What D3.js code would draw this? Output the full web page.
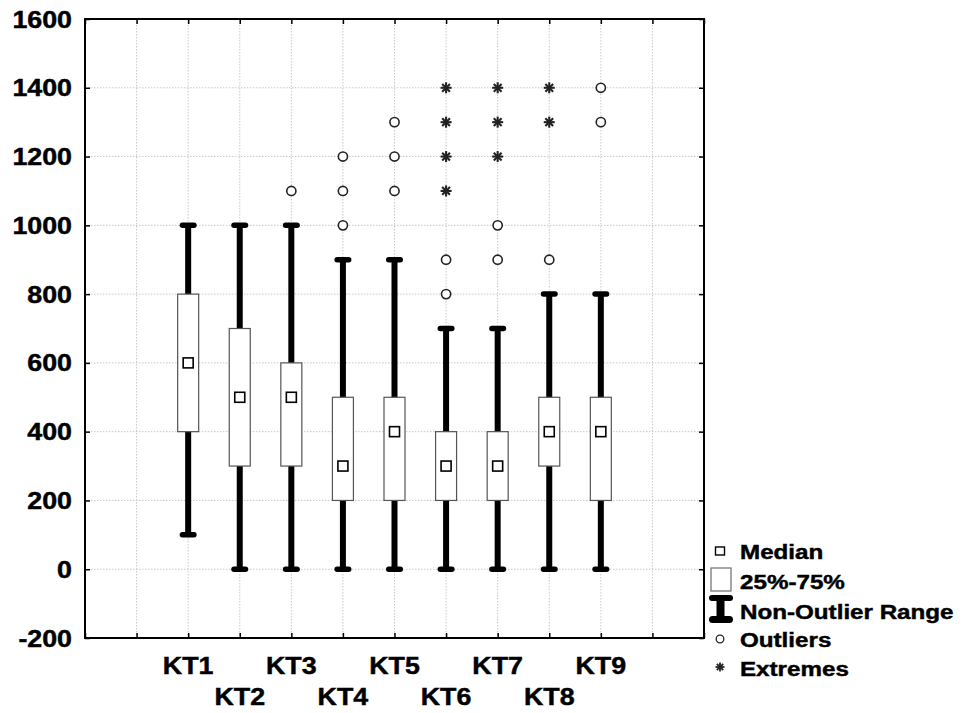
<!DOCTYPE html>
<html>
<head>
<meta charset="utf-8">
<script src="https://cdn.jsdelivr.net/npm/d3@7"></script>
<style>
  html, body { margin: 0; padding: 0; background: #fff; }
  svg { display: block; }
  text { font-family: "Liberation Sans", Arial, sans-serif; font-weight: bold; fill: #000; stroke: #000; stroke-width: 0.45px; }
</style>
</head>
<body>
<svg id="chart" width="964" height="713"></svg>
<script>
// Box-plot summaries per sampling site
const categories = ["KT1", "KT2", "KT3", "KT4", "KT5", "KT6", "KT7", "KT8", "KT9"];
const whiskerLow  = [100, 0, 0, 0, 0, 0, 0, 0, 0];
const whiskerHigh = [1000, 1000, 1000, 900, 900, 700, 700, 800, 800];
const q1          = [400, 300, 300, 200, 200, 200, 200, 300, 200];
const q3          = [800, 700, 600, 500, 500, 400, 400, 500, 500];
const medians     = [600, 500, 500, 300, 400, 300, 300, 400, 400];
const outliers = [
  [], [], [1100], [1000, 1100, 1200], [1100, 1200, 1300],
  [800, 900], [900, 1000], [900], [1300, 1400]
];
const extremes = [
  [], [], [], [], [],
  [1100, 1200, 1300, 1400], [1200, 1300, 1400], [1300, 1400], []
];
const yTicks = [-200, 0, 200, 400, 600, 800, 1000, 1200, 1400, 1600];
const legendLabels = ["Median", "25%-75%", "Non-Outlier Range", "Outliers", "Extremes"];

const svg = d3.select("#chart");
const plotL = 85, plotR = 704, plotT = 19, plotB = 638;

// 12 slots across the frame; sites sit on slots 2..10
const x = d3.scaleLinear().domain([0, 12]).range([plotL, plotR]);
const pos = i => x(i + 2);
const y = d3.scaleLinear().domain([-200, 1600]).range([plotB, plotT]);

// wide bold lettering: place at (tx, ty) and stretch horizontally
const place = (tx, ty, sx) => `translate(${tx},${ty}) scale(${sx},1)`;

// grid
const grid = svg.append("g");
grid.selectAll("line.h").data(yTicks.slice(1, -1)).join("line")
  .attr("x1", plotL).attr("x2", plotR)
  .attr("y1", d => y(d)).attr("y2", d => y(d))
  .attr("stroke", "#c8c8c8").attr("stroke-width", 1).attr("stroke-dasharray", "1.5,1.5");
grid.selectAll("line.v").data(d3.range(1, 12)).join("line")
  .attr("y1", plotT).attr("y2", plotB)
  .attr("x1", d => x(d)).attr("x2", d => x(d))
  .attr("stroke", "#c8c8c8").attr("stroke-width", 1).attr("stroke-dasharray", "1.5,1.5");

// axes with inward ticks on all four sides
const yAxisL = d3.axisRight(y).tickValues(yTicks).tickSize(5).tickFormat("");
const yAxisR = d3.axisLeft(y).tickValues(yTicks).tickSize(5).tickFormat("");
const xAxisB = d3.axisTop(x).tickValues(d3.range(0, 13)).tickSize(5).tickFormat("");
const xAxisT = d3.axisBottom(x).tickValues(d3.range(0, 13)).tickSize(5).tickFormat("");
[
  [yAxisL, `translate(${plotL},0)`],
  [yAxisR, `translate(${plotR},0)`],
  [xAxisB, `translate(0,${plotB})`],
  [xAxisT, `translate(0,${plotT})`]
].forEach(([ax, tr]) => {
  const g = svg.append("g").attr("transform", tr).call(ax);
  g.select(".domain").remove();
  g.selectAll(".tick line").attr("stroke", "#000").attr("stroke-width", 1.5);
});
svg.append("rect").attr("x", plotL).attr("y", plotT)
  .attr("width", plotR - plotL).attr("height", plotB - plotT)
  .attr("fill", "none").attr("stroke", "#000").attr("stroke-width", 2);

// y tick labels
svg.append("g").selectAll("text").data(yTicks).join("text")
  .attr("transform", d => place(72, y(d) + 8.5, 1.14))
  .attr("text-anchor", "end").attr("font-size", 23.5)
  .text(d => d);

// x labels, staggered in two rows
svg.append("g").selectAll("text").data(categories).join("text")
  .attr("transform", (d, i) => place(pos(i), i % 2 === 0 ? 674 : 705, 1.14))
  .attr("text-anchor", "middle").attr("font-size", 23.5)
  .text(d => d);

const boxW = 21, stemW = 6, capW = 17, capH = 5.5;
const plot = svg.append("g");

function drawStar(g, cx, cy, r, w) {
  const s = g.append("g").attr("transform", `translate(${cx},${cy})`);
  [0, 45, 90, 135].forEach(a => {
    const t = a * Math.PI / 180;
    s.append("line")
      .attr("x1", -r * Math.cos(t)).attr("y1", -r * Math.sin(t))
      .attr("x2", r * Math.cos(t)).attr("y2", r * Math.sin(t))
      .attr("stroke", "#222").attr("stroke-width", w);
  });
}

categories.forEach((c, i) => {
  const cx = pos(i);
  // whisker stem
  plot.append("rect")
    .attr("x", cx - stemW / 2).attr("width", stemW)
    .attr("y", y(whiskerHigh[i])).attr("height", y(whiskerLow[i]) - y(whiskerHigh[i]))
    .attr("fill", "#000");
  // caps
  [whiskerLow[i], whiskerHigh[i]].forEach(v => {
    plot.append("rect")
      .attr("x", cx - capW / 2).attr("width", capW)
      .attr("y", y(v) - capH / 2).attr("height", capH)
      .attr("rx", capH / 2).attr("fill", "#000");
  });
  // box
  plot.append("rect")
    .attr("x", cx - boxW / 2).attr("width", boxW)
    .attr("y", y(q3[i])).attr("height", y(q1[i]) - y(q3[i]))
    .attr("fill", "#fff").attr("stroke", "#555").attr("stroke-width", 1.2);
  // median
  plot.append("rect")
    .attr("x", cx - 5).attr("y", y(medians[i]) - 5)
    .attr("width", 10).attr("height", 10)
    .attr("fill", "#fff").attr("stroke", "#000").attr("stroke-width", 1.6);
  // outliers
  outliers[i].forEach(v => {
    plot.append("circle").attr("cx", cx).attr("cy", y(v)).attr("r", 4.6)
      .attr("fill", "#fff").attr("stroke", "#222").attr("stroke-width", 1.6);
  });
  // extremes
  extremes[i].forEach(v => drawStar(plot, cx, y(v), 5.5, 2.1));
});

// legend
const lg = svg.append("g");
const lx = 720;
const rowsY = [559, 589, 619, 647, 676];
lg.append("rect").attr("x", lx - 4.5).attr("y", 547).attr("width", 9).attr("height", 8)
  .attr("fill", "#fff").attr("stroke", "#000").attr("stroke-width", 1.4);
lg.append("rect").attr("x", 711).attr("y", 568).attr("width", 20).attr("height", 23)
  .attr("fill", "#fff").attr("stroke", "#777").attr("stroke-width", 1.3);
lg.append("rect").attr("x", 709).attr("y", 595).attr("width", 24).attr("height", 6)
  .attr("rx", 3).attr("fill", "#000");
lg.append("rect").attr("x", 716.5).attr("y", 597).attr("width", 8).attr("height", 22)
  .attr("fill", "#000");
lg.append("rect").attr("x", 709).attr("y", 616).attr("width", 24).attr("height", 7)
  .attr("rx", 3.5).attr("fill", "#000");
lg.append("circle").attr("cx", lx).attr("cy", 639).attr("r", 3.8)
  .attr("fill", "#fff").attr("stroke", "#222").attr("stroke-width", 1.3);
drawStar(lg, lx, 667, 4.5, 1.8);
lg.selectAll("text").data(legendLabels).join("text")
  .attr("transform", (d, i) => place(740, rowsY[i], 1.18))
  .attr("font-size", 20.5)
  .text(d => d);
</script>
</body>
</html>
